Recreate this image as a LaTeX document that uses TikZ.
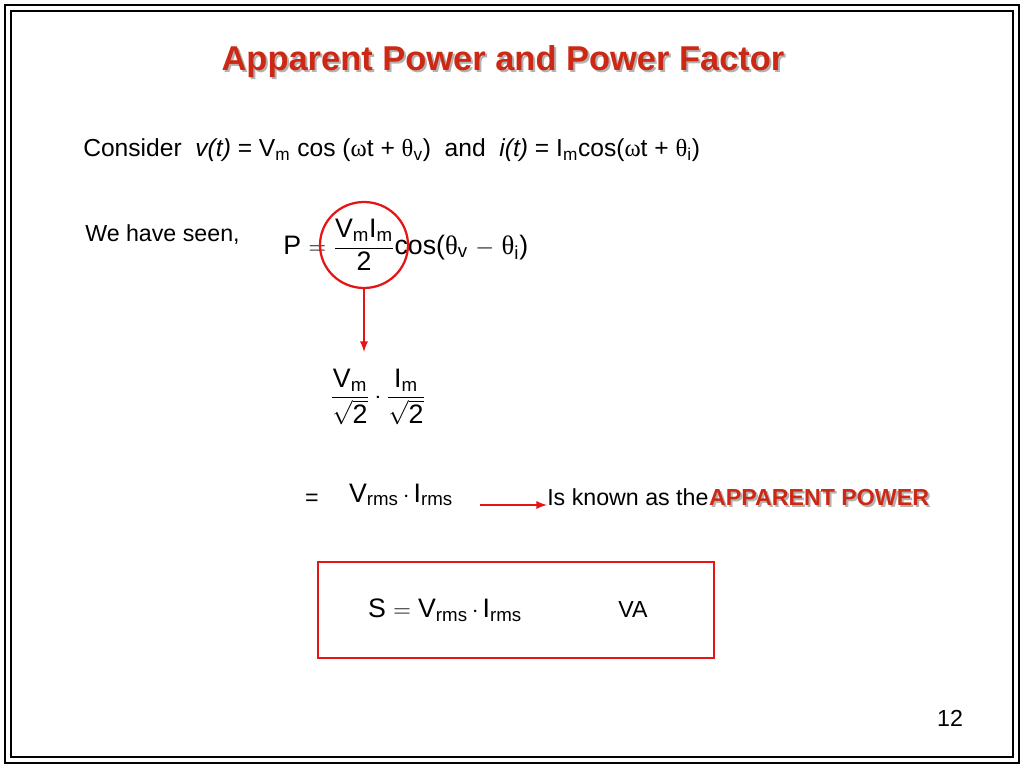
\documentclass[tikz,border=0pt]{standalone}
\usepackage{fontspec}
\setmainfont{Liberation Sans}
\newfontfamily\greekfont{Liberation Serif}
\usetikzlibrary{positioning}
\definecolor{titlered}{RGB}{204,40,20}
\definecolor{linered}{RGB}{230,20,20}
\newcommand{\gr}[1]{{\greekfont #1}}
\newcommand{\sub}[1]{\textsubscript{#1}}
\tikzset{
  body/.style={font=\fontsize{16.5}{20}\selectfont, inner sep=0pt},
  big/.style={font=\fontsize{19}{23}\selectfont, inner sep=0pt},
  redline/.style={draw=linered, line width=1.6pt},
}
\begin{document}
\begin{tikzpicture}[x=0.025cm,y=-0.025cm]
\useasboundingbox (0,0) rectangle (1024,768);
% frame
\draw[line width=0.8pt] (5,5) rectangle (1019,763);
\draw[line width=0.8pt] (11,11) rectangle (1013,757);
% title
\node[font=\fontsize{24.5}{28}\selectfont\bfseries, text=gray!60] at (505,64) {Apparent Power and Power Factor};
\node[font=\fontsize{24.5}{28}\selectfont\bfseries, text=titlered] (title) at (503,62) {Apparent Power and Power Factor};
% text lines
\node[body, anchor=west, font=\fontsize{17.5}{21}\selectfont] (consider) at (83,150) {Consider \ \textit{v(t)} = V\sub{m} cos (\gr{ω}t + \gr{θ}\sub{v}) \ and \ \textit{i(t)} = I\sub{m}cos(\gr{ω}t + \gr{θ}\sub{i})};
\node[body, anchor=west] (seen) at (85,235) {We have seen,};
\node[big, anchor=west] (power) at (283,245) {P $=$ $\displaystyle\frac{\mbox{V\sub{m}I\sub{m}}}{\mbox{2}}$cos(\gr{θ}\sub{v} $-$ \gr{θ}\sub{i})};
\draw[redline] (364,245) ellipse [x radius=44, y radius=43];
\coordinate (ellbot) at (364,288);
\node[big] (rootform) at (378,397) {$\displaystyle\frac{\mbox{V\sub{m}}}{\sqrt{\mbox{2}}}\cdot\frac{\mbox{I\sub{m}}}{\sqrt{\mbox{2}}}$};
\coordinate (roottop) at (364,352);
\draw[redline, ->, >=latex] (ellbot) -- (roottop);
\node[body] (eq) at (312,500) {=};
\node[big] (rms) at (401,495) {V\sub{rms}$\,\cdot\,$I\sub{rms}};
\node[body, anchor=base west] (known) at (547,505) {Is known as the\ };
\node[body, anchor=base west, text=gray!60, font=\fontsize{16.5}{20}\selectfont\bfseries] at ([xshift=1.5pt,yshift=-1.5pt]known.base east) {APPARENT POWER};
\node[body, anchor=base west, text=titlered, font=\fontsize{16.5}{20}\selectfont\bfseries] (apparent) at (known.base east) {APPARENT POWER};
\coordinate (arrstart) at (480,505);
\draw[redline, ->, >=latex] (arrstart) -- (arrstart -| known.west);
% result box
\node[draw=linered, line width=1.6pt, minimum width=396*0.025cm, minimum height=96*0.025cm] (box) at (516,610) {};
\node[big] (sform) at (445,610) {S $=$ V\sub{rms}$\,\cdot\,$I\sub{rms}};
\node[body] (va) at (633,610) {VA};
\node[body] (page) at (950,718) {12};
\end{tikzpicture}
\end{document}
